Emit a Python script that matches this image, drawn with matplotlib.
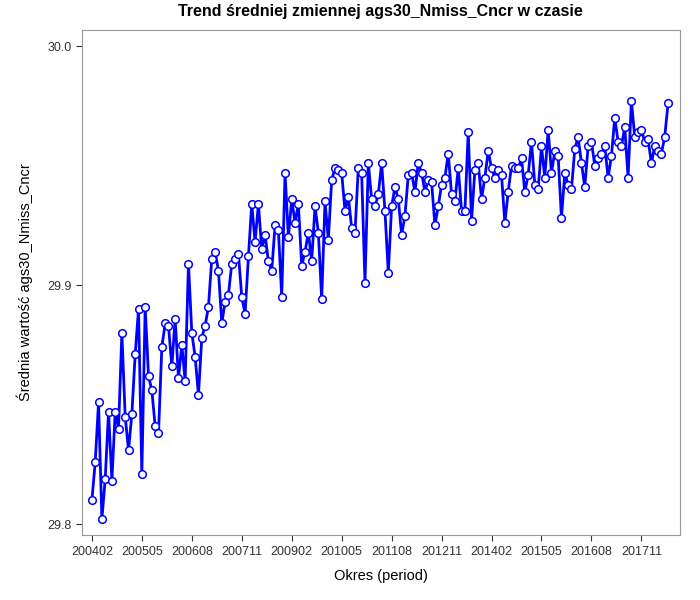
import numpy as np
import matplotlib.pyplot as plt

plt.rcParams['font.family'] = 'Liberation Sans'

# monthly means, starting 2004-02
values = [
    29.810, 29.826, 29.851, 29.802, 29.819, 29.847, 29.818, 29.847, 29.840, 29.880,
    29.845, 29.831, 29.846, 29.871, 29.890, 29.821, 29.891, 29.862, 29.856, 29.841,
    29.838, 29.874, 29.884, 29.883, 29.866, 29.886, 29.861, 29.875, 29.860, 29.909,
    29.880, 29.870, 29.854, 29.878, 29.883, 29.891, 29.911, 29.914, 29.906, 29.884,
    29.893, 29.896, 29.909, 29.911, 29.913, 29.895, 29.888, 29.912, 29.934, 29.918,
    29.934, 29.915, 29.921, 29.910, 29.906, 29.925, 29.923, 29.895, 29.947, 29.920,
    29.936, 29.926, 29.934, 29.908, 29.914, 29.922, 29.910, 29.933, 29.922, 29.894,
    29.935, 29.919, 29.944, 29.949, 29.948, 29.947, 29.931, 29.937, 29.924, 29.922,
    29.949, 29.947, 29.901, 29.951, 29.936, 29.933, 29.938, 29.951, 29.931, 29.905,
    29.933, 29.941, 29.936, 29.921, 29.929, 29.946, 29.947, 29.939, 29.951, 29.947,
    29.939, 29.944, 29.943, 29.925, 29.933, 29.942, 29.945, 29.955, 29.938, 29.935,
    29.949, 29.931, 29.931, 29.964, 29.927, 29.948, 29.951, 29.936, 29.945, 29.956,
    29.949, 29.945, 29.948, 29.946, 29.926, 29.939, 29.950, 29.949, 29.949, 29.953,
    29.939, 29.946, 29.960, 29.942, 29.940, 29.958, 29.945, 29.965, 29.947, 29.956,
    29.954, 29.928, 29.947, 29.942, 29.940, 29.957, 29.962, 29.951, 29.941, 29.958,
    29.960, 29.950, 29.953, 29.955, 29.958, 29.945, 29.954, 29.970, 29.960, 29.958,
    29.966, 29.945, 29.977, 29.962, 29.964, 29.965, 29.960, 29.961, 29.951, 29.958,
    29.956, 29.955, 29.962, 29.976,
]
n = len(values)
periods = []
y, m = 2004, 2
for i in range(n):
    periods.append(f"{y}{m:02d}")
    m += 1
    if m > 12:
        m, y = 1, y + 1
x = np.arange(n)
tick_idx = list(range(0, n - 5, 15))
tick_labels = [periods[i] for i in tick_idx]

fig = plt.figure(figsize=(7, 6), dpi=100)
ax = fig.add_axes([0.117, 0.108, 0.854, 0.842])
ax.plot(x, values, color='#0000ff', linewidth=2.0, marker='o', markersize=5.5,
        markerfacecolor='white', markeredgecolor='#0000ff', markeredgewidth=1.1)

ax.set_xlim(-3, 176.5)
ax.set_ylim(29.7954, 30.0067)
ax.set_xticks(tick_idx)
ax.set_xticklabels(tick_labels, fontsize=9)
ax.set_yticks([29.8, 29.9, 30.0])
ax.set_yticklabels(['29.8', '29.9', '30.0'], fontsize=9)
ax.set_xlabel('Okres (period)', fontsize=10.5, labelpad=8)
ax.set_ylabel('Średnia wartość ags30_Nmiss_Cncr', fontsize=10.5, labelpad=10)
ax.set_title('Trend średniej zmiennej ags30_Nmiss_Cncr w czasie', fontsize=11.5,
             fontweight='bold', pad=10)
for s in ax.spines.values():
    s.set_color('#999999')
ax.tick_params(colors='#333333', length=4)

fig.savefig('out.png', dpi=100)
